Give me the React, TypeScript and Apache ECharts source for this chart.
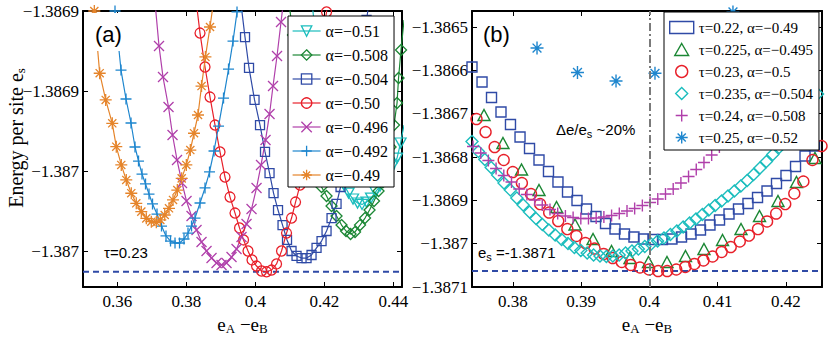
import React, { useEffect, useRef } from "react";
import * as echarts from "echarts";

// ---------------- Panel (a): tau = 0.23, several alpha ----------------
const xA051 = [0.41641, 0.41728, 0.41844, 0.4196, 0.42076, 0.42192, 0.42308, 0.42439, 0.42569, 0.427, 0.4283, 0.42961, 0.43091, 0.43222, 0.43352, 0.43483, 0.43613, 0.43744, 0.43874, 0.4399, 0.44106, 0.44208, 0.44309];
const eA051 = [-1.386895, -1.3869119, -1.3869306, -1.3869494, -1.3869663, -1.3869806, -1.3869925, -1.3870019, -1.3870088, -1.3870138, -1.3870175, -1.38702, -1.3870209, -1.3870194, -1.3870169, -1.3870131, -1.3870094, -1.3870056, -1.3870013, -1.3869963, -1.3869919, -1.3869825, -1.3869713];

const xA0508 = [0.40974, 0.4109, 0.41206, 0.41322, 0.41438, 0.41554, 0.4167, 0.41786, 0.41917, 0.42062, 0.42207, 0.42352, 0.42497, 0.42627, 0.42758, 0.42888, 0.43033, 0.43178, 0.43309, 0.43439, 0.4357, 0.437, 0.43816, 0.43918, 0.44019, 0.44106, 0.4415, 0.44222, 0.44309];
const eA0508 = [-1.386895, -1.386915, -1.3869338, -1.3869525, -1.3869694, -1.386985, -1.3869969, -1.3870044, -1.38701, -1.3870156, -1.3870219, -1.3870281, -1.3870338, -1.3870375, -1.3870394, -1.3870381, -1.3870338, -1.3870294, -1.3870244, -1.3870188, -1.3870125, -1.3870069, -1.3869963, -1.386985, -1.3869713, -1.3869575, -1.3869419, -1.3869244, -1.3869056];

const xA0504 = [0.39568, 0.39698, 0.39814, 0.39974, 0.40133, 0.40278, 0.40409, 0.40525, 0.40655, 0.40786, 0.40916, 0.41047, 0.41192, 0.41337, 0.41482, 0.41627, 0.41772, 0.41917, 0.42062, 0.42207, 0.42352, 0.42468, 0.42584, 0.42714, 0.4283, 0.4296, 0.43091, 0.43222, 0.43323];
const eA0504 = [-1.3868931, -1.3869163, -1.3869356, -1.3869556, -1.3869713, -1.3869881, -1.3870013, -1.3870138, -1.3870244, -1.3870338, -1.3870431, -1.38705, -1.3870531, -1.3870544, -1.3870544, -1.3870525, -1.3870481, -1.3870438, -1.3870375, -1.3870294, -1.3870206, -1.38701, -1.3869956, -1.3869788, -1.3869619, -1.3869431, -1.3869244, -1.3869056, -1.38689];

const xA050 = [0.38277, 0.38393, 0.38538, 0.38683, 0.38828, 0.38973, 0.39118, 0.39263, 0.39408, 0.39539, 0.39655, 0.39785, 0.39901, 0.40032, 0.40177, 0.40322, 0.40467, 0.40612, 0.40757, 0.40902, 0.41047, 0.41163, 0.41293, 0.41424, 0.41554, 0.41685, 0.41815, 0.41931, 0.42062, 0.42163];
const eA050 = [-1.3868931, -1.3869138, -1.386935, -1.3869538, -1.3869713, -1.3869881, -1.3870038, -1.3870163, -1.3870263, -1.3870356, -1.3870431, -1.38705, -1.3870556, -1.3870594, -1.3870625, -1.387063, -1.3870619, -1.3870581, -1.38705, -1.3870388, -1.3870294, -1.3870194, -1.3870088, -1.3869944, -1.3869775, -1.3869588, -1.3869381, -1.3869194, -1.3869006, -1.386884];

const xA0496 = [0.37103, 0.37204, 0.3732, 0.3748, 0.37596, 0.37726, 0.37871, 0.38002, 0.38147, 0.38292, 0.38437, 0.38582, 0.38727, 0.38872, 0.39017, 0.39162, 0.39307, 0.39452, 0.39597, 0.39742, 0.39887, 0.40032, 0.40162, 0.40293, 0.40409, 0.4051, 0.40626, 0.40742, 0.40829];
const eA0496 = [-1.3868981, -1.3869219, -1.3869413, -1.38696, -1.3869775, -1.3869931, -1.3870075, -1.3870188, -1.3870281, -1.3870369, -1.3870444, -1.38705, -1.3870544, -1.3870575, -1.3870588, -1.3870575, -1.3870538, -1.3870488, -1.3870413, -1.3870331, -1.3870238, -1.3870106, -1.3869963, -1.3869806, -1.3869644, -1.3869469, -1.3869281, -1.3869069, -1.3868913];

const xA0492 = [0.35928, 0.36102, 0.36247, 0.36392, 0.36508, 0.3661, 0.36711, 0.36813, 0.36914, 0.37016, 0.37146, 0.37277, 0.37407, 0.37538, 0.37668, 0.37799, 0.37929, 0.38045, 0.38147, 0.38248, 0.38393, 0.38538, 0.38669, 0.38799, 0.3893, 0.39075, 0.3922, 0.3935, 0.39466, 0.39553];
const eA0492 = [-1.3869, -1.3869369, -1.386955, -1.38697, -1.386985, -1.3869938, -1.3870019, -1.3870081, -1.3870144, -1.3870206, -1.3870269, -1.3870344, -1.3870406, -1.3870438, -1.387045, -1.387045, -1.3870425, -1.3870388, -1.3870344, -1.3870294, -1.38702, -1.3870106, -1.3870006, -1.3869875, -1.3869719, -1.3869544, -1.3869363, -1.3869188, -1.3869006, -1.386887];

const xA049 = [0.35328, 0.35484, 0.35658, 0.35849, 0.35965, 0.3611, 0.36255, 0.364, 0.36545, 0.36691, 0.36836, 0.36981, 0.37126, 0.37242, 0.3737, 0.37494, 0.3761, 0.37735, 0.37862, 0.37996, 0.38112, 0.38219, 0.38335, 0.38437, 0.3855, 0.38683, 0.38799];
const eA049 = [-1.3869, -1.3869389, -1.3869556, -1.3869702, -1.3869848, -1.3869962, -1.3870056, -1.3870139, -1.3870202, -1.3870254, -1.3870296, -1.3870317, -1.3870321, -1.3870306, -1.3870275, -1.3870233, -1.3870181, -1.3870119, -1.3870046, -1.3869962, -1.3869869, -1.3869764, -1.386965, -1.3869469, -1.3869287, -1.38691, -1.3868919];

// ---------------- Panel (b): different (tau, alpha) ----------------
const xB022 = [0.374, 0.37547, 0.37686, 0.37825, 0.37964, 0.38104, 0.38243, 0.38382, 0.38521, 0.3866, 0.388, 0.38939, 0.39078, 0.39217, 0.39357, 0.39496, 0.39635, 0.39774, 0.39914, 0.40053, 0.40192, 0.40331, 0.40471, 0.4061, 0.40749, 0.40888, 0.41028, 0.41167, 0.41306, 0.41445, 0.41585, 0.41724, 0.41863, 0.42002, 0.42142, 0.42281, 0.4242];
const eB022 = [-1.3865923, -1.3866269, -1.3866627, -1.3866962, -1.386725, -1.3867538, -1.3867804, -1.3868069, -1.3868335, -1.3868577, -1.3868808, -1.3869004, -1.38692, -1.3869373, -1.3869535, -1.3869662, -1.3869777, -1.3869846, -1.3869892, -1.3869904, -1.3869904, -1.3869892, -1.3869846, -1.3869777, -1.3869685, -1.3869569, -1.3869454, -1.3869315, -1.38692, -1.3869073, -1.3868935, -1.3868785, -1.3868612, -1.3868427, -1.3868219, -1.3867977, -1.3867746];

const xB0225 = [0.37576, 0.37854, 0.38126, 0.38382, 0.38639, 0.3891, 0.39174, 0.39445, 0.39716, 0.39987, 0.40258, 0.40529, 0.408, 0.41072, 0.41343, 0.41614, 0.41885, 0.42156, 0.42427];
const eB0225 = [-1.3867031, -1.3867677, -1.3868288, -1.3868762, -1.3869154, -1.3869558, -1.3869892, -1.3870169, -1.3870331, -1.3870423, -1.3870423, -1.3870285, -1.3870123, -1.3869915, -1.3869662, -1.3869362, -1.3869015, -1.3868577, -1.3868023];

const xB023 = [0.37466, 0.37599, 0.37732, 0.37865, 0.37998, 0.38131, 0.38265, 0.38398, 0.38531, 0.38664, 0.38797, 0.3893, 0.39063, 0.39196, 0.39329, 0.39462, 0.39595, 0.39728, 0.39862, 0.39995, 0.40128, 0.40261, 0.40394, 0.40527, 0.4066, 0.40793, 0.40926, 0.41059, 0.41192, 0.41325, 0.41459, 0.41592, 0.41725, 0.41858, 0.41991, 0.42124, 0.42257, 0.4239, 0.42523];
const eB023 = [-1.3867123, -1.3867423, -1.3867769, -1.3868069, -1.3868346, -1.38686, -1.3868854, -1.3869085, -1.3869281, -1.3869477, -1.3869662, -1.3869823, -1.3869985, -1.3870112, -1.3870238, -1.3870331, -1.3870423, -1.3870492, -1.387055, -1.3870596, -1.3870631, -1.3870631, -1.3870596, -1.3870538, -1.3870469, -1.3870388, -1.3870296, -1.3870192, -1.3870077, -1.386995, -1.3869812, -1.3869662, -1.3869488, -1.3869304, -1.3869085, -1.3868842, -1.3868565, -1.3868069, -1.3867746];

const xB0235 = [0.374, 0.37494, 0.37588, 0.37681, 0.37775, 0.37869, 0.37963, 0.38057, 0.3815, 0.38244, 0.38338, 0.38432, 0.38526, 0.38619, 0.38713, 0.38807, 0.38901, 0.38995, 0.39088, 0.39182, 0.39276, 0.3937, 0.39464, 0.39557, 0.39651, 0.39745, 0.39839, 0.39933, 0.40026, 0.4012, 0.40214, 0.40308, 0.40402, 0.40495, 0.40589, 0.40683, 0.40777, 0.40871, 0.40964, 0.41058, 0.41152, 0.41246, 0.4134, 0.41433, 0.41527, 0.41621, 0.41715, 0.41809, 0.41902, 0.41996, 0.4209, 0.42184, 0.42278, 0.42371, 0.42465, 0.42559];
const eB0235 = [-1.3867642, -1.3867873, -1.3868058, -1.3868242, -1.3868415, -1.38686, -1.3868762, -1.3868946, -1.3869108, -1.3869269, -1.3869419, -1.3869558, -1.3869685, -1.38698, -1.3869904, -1.3869996, -1.3870088, -1.3870158, -1.3870215, -1.3870262, -1.3870285, -1.3870296, -1.3870285, -1.3870262, -1.3870215, -1.3870169, -1.3870123, -1.3870065, -1.3870008, -1.3869938, -1.3869869, -1.3869788, -1.3869708, -1.3869615, -1.3869523, -1.3869431, -1.3869327, -1.3869223, -1.3869119, -1.3869015, -1.38689, -1.3868785, -1.3868669, -1.3868542, -1.3868404, -1.3868254, -1.3868104, -1.3867942, -1.3867781, -1.3867608, -1.3867435, -1.386725, -1.3867054, -1.38668, -1.3866546, -1.3866269];

const xB024 = [0.37415, 0.37528, 0.3764, 0.37753, 0.37866, 0.37979, 0.38092, 0.38205, 0.38318, 0.3843, 0.38543, 0.38656, 0.38769, 0.38882, 0.38995, 0.39107, 0.3922, 0.39333, 0.39446, 0.39559, 0.39672, 0.39784, 0.39897, 0.4001, 0.40123, 0.40236, 0.40349, 0.40462, 0.40574, 0.40687, 0.408, 0.40913, 0.41026, 0.41139, 0.41251, 0.41364];
const eB024 = [-1.3867758, -1.3867908, -1.3868081, -1.3868265, -1.3868427, -1.3868577, -1.3868738, -1.3868865, -1.3868992, -1.3869108, -1.3869212, -1.3869304, -1.3869362, -1.3869396, -1.3869419, -1.3869419, -1.3869408, -1.3869385, -1.386935, -1.3869304, -1.3869246, -1.3869188, -1.3869119, -1.386905, -1.3868969, -1.3868854, -1.3868738, -1.38686, -1.386845, -1.3868288, -1.3868127, -1.3867954, -1.3867769, -1.3867585, -1.3867377, -1.3867169];

const xB025 = [0.38353, 0.38946, 0.39511, 0.40082, 0.40654, 0.41225];
const eB025 = [-1.3865485, -1.386605, -1.3866246, -1.3866068, -1.3865508, -1.3864654];

// ---------------- ticks / levels ----------------
const xRangeA = [0.35, 0.4425];
const yRangeA = [-1.3870725, -1.3869];
const xRangeB = [0.374, 0.4253];
const yRangeB = [-1.3871, -1.386463];

const xTicksA = [0.36, 0.38, 0.4, 0.42, 0.44];
const xTickLabelsA = ["0.36", "0.38", "0.4", "0.42", "0.44"];
const yTicksA = [-1.3869, -1.38695, -1.387, -1.38705];
const yTickLabelsA = ["\u22121.3869", "\u22121.3869", "\u22121.387", "\u22121.387"];
const xTicksB = [0.38, 0.39, 0.4, 0.41, 0.42];
const xTickLabelsB = ["0.38", "0.39", "0.4", "0.41", "0.42"];
const yTicksB = [-1.3865, -1.3866, -1.3867, -1.3868, -1.3869, -1.387, -1.3871];
const yTickLabelsB = ["\u22121.3865", "\u22121.3866", "\u22121.3867", "\u22121.3868", "\u22121.3869", "\u22121.387", "\u22121.3871"];

const esLevel = -1.387063;
const dividerX = 0.4018;

const SERIF = "Liberation Serif, Times New Roman, serif";
const SANS = "Liberation Sans, Arial, sans-serif";

const SYM = {
  triDown: "path://M0,0L10,0L5,8.66Z",
  triUp: "path://M5,0L10,8.66L0,8.66Z",
  diamond: "path://M5,0L10,5L5,10L0,5Z",
  cross: "path://M0,0L10,10M10,0L0,10",
  plus: "path://M5,0L5,10M0,5L10,5",
  star: "path://M5,0L5,10M0,5L10,5M1.6,1.6L8.4,8.4M8.4,1.6L1.6,8.4",
};

const C = {
  cyan: "#1BBDBD",
  green: "#1B8734",
  navy: "#2F4AA6",
  red: "#E8202A",
  magenta: "#B03FAA",
  blue: "#1E86CE",
  orange: "#E5842A",
};

function fmt(ticks: number[], labels: string[]) {
  return (v: number) => {
    const i = ticks.findIndex((t) => Math.abs(t - v) < 1e-9);
    return i >= 0 ? labels[i] : "";
  };
}

function axis(gridIndex: number, position: string, range: number[], ticks: number[], labels: string[], showLabels: boolean, extra: any = {}) {
  return {
    type: "value",
    gridIndex,
    position,
    min: range[0],
    max: range[1],
    axisLine: { show: true, onZero: false, lineStyle: { color: "#000", width: 2 } },
    axisTick: { show: true, inside: true, length: 5, customValues: ticks, lineStyle: { color: "#000", width: 1 } },
    axisLabel: {
      show: showLabels,
      customValues: ticks,
      formatter: fmt(ticks, labels),
      fontFamily: SERIF,
      fontSize: 17,
      color: "#000",
      margin: position === "bottom" ? 6 : 4,
    },
    splitLine: { show: false },
    ...extra,
  };
}

const subRich = {
  m: { fontFamily: SERIF, fontSize: 19, color: "#000", lineHeight: 22 },
  s: { fontFamily: SERIF, fontSize: 13, color: "#000", lineHeight: 11, verticalAlign: "bottom" },
};

function lineSeries(name: string, xs: number[], ys: number[], color: string, symbol: string, size: any) {
  return {
    type: "line",
    name,
    xAxisIndex: 0,
    yAxisIndex: 0,
    data: xs.map((x, i) => [x, ys[i]]),
    symbol,
    symbolSize: size,
    showAllSymbol: true,
    clip: true,
    silent: true,
    lineStyle: { color, width: 1.2 },
    itemStyle: { color: "rgba(255,255,255,0)", borderColor: color, borderWidth: 1.3 },
    emphasis: { disabled: true },
  };
}

function scatterSeries(name: string, xs: number[], ys: number[], color: string, symbol: string, size: any) {
  return {
    type: "scatter",
    name,
    xAxisIndex: 2,
    yAxisIndex: 2,
    data: xs.map((x, i) => [x, ys[i]]),
    symbol,
    symbolSize: size,
    clip: true,
    silent: true,
    itemStyle: { color: "rgba(255,255,255,0)", borderColor: color, borderWidth: 1.4, opacity: 1 },
    emphasis: { disabled: true },
  };
}

function levelSeries(xAxisIndex: number, yAxisIndex: number, xr: number[]) {
  return {
    type: "line",
    name: "es-level-" + xAxisIndex,
    xAxisIndex,
    yAxisIndex,
    data: [
      [xr[0], esLevel],
      [xr[1], esLevel],
    ],
    symbol: "none",
    silent: true,
    z: 1,
    lineStyle: { color: "#2F4AA6", width: 2, type: [6, 4] },
    emphasis: { disabled: true },
  };
}

export default function App() {
  const ref = useRef<HTMLDivElement>(null);

  useEffect(() => {
    if (!ref.current) return;
    const chart = echarts.init(ref.current, undefined, { renderer: "svg" });

    const namesA = ["\u03b1=\u22120.51", "\u03b1=\u22120.508", "\u03b1=\u22120.504", "\u03b1=\u22120.50", "\u03b1=\u22120.496", "\u03b1=\u22120.492", "\u03b1=\u22120.49"];
    const namesB = [
      "\u03c4=0.22, \u03b1=\u22120.49",
      "\u03c4=0.225, \u03b1=\u22120.495",
      "\u03c4=0.23, \u03b1=\u22120.5",
      "\u03c4=0.235, \u03b1=\u22120.504",
      "\u03c4=0.24, \u03b1=\u22120.508",
      "\u03c4=0.25, \u03b1=\u22120.52",
    ];

    const redB: any = scatterSeries(namesB[2], xB023, eB023, C.red, "circle", 11);
    redB.markLine = {
      silent: true,
      symbol: ["none", "none"],
      label: { show: false },
      data: [{ xAxis: dividerX, lineStyle: { color: "#7a7a7a", width: 2, type: [8, 3, 2, 3] } }],
    };

    const option: any = {
      animation: false,
      backgroundColor: "#fff",
      grid: [
        { left: 83, top: 11, width: 319, height: 276, containLabel: false, outerBoundsMode: "none" },
        { left: 472, top: 11, width: 350, height: 276, containLabel: false, outerBoundsMode: "none" },
      ],
      xAxis: [
        axis(0, "bottom", xRangeA, xTicksA, xTickLabelsA, true, {
          name: "{m|e}{s|A}{m| \u2212e}{s|B}",
          nameLocation: "middle",
          nameGap: 16,
          nameTextStyle: { rich: subRich },
        }),
        axis(0, "top", xRangeA, xTicksA, xTickLabelsA, false),
        axis(1, "bottom", xRangeB, xTicksB, xTickLabelsB, true, {
          name: "{m|e}{s|A}{m| \u2212e}{s|B}",
          nameLocation: "middle",
          nameGap: 16,
          nameTextStyle: { rich: subRich },
        }),
        axis(1, "top", xRangeB, xTicksB, xTickLabelsB, false),
      ],
      yAxis: [
        axis(0, "left", yRangeA, yTicksA, yTickLabelsA, true),
        axis(0, "right", yRangeA, yTicksA, yTickLabelsA, false),
        axis(1, "left", yRangeB, yTicksB, yTickLabelsB, true),
        axis(1, "right", yRangeB, yTicksB, yTickLabelsB, false),
      ],
      legend: [
        {
          orient: "vertical",
          left: 288,
          top: 16,
          data: namesA,
          backgroundColor: "#fff",
          borderColor: "#000",
          borderWidth: 1,
          borderRadius: 0,
          padding: [7, 6, 4, 4],
          itemGap: 8,
          itemWidth: 28,
          itemHeight: 13,
          selectedMode: false,
          textStyle: { fontFamily: SERIF, fontSize: 16, color: "#000" },
          itemStyle: { borderWidth: 1.3 },
          lineStyle: { width: 1.2 },
        },
        {
          orient: "vertical",
          left: 664,
          top: 12,
          data: namesB,
          backgroundColor: "#fff",
          borderColor: "#000",
          borderWidth: 1,
          borderRadius: 0,
          padding: [8, 6, 5, 5],
          itemGap: 7,
          itemWidth: 24,
          itemHeight: 12,
          selectedMode: false,
          textStyle: { fontFamily: SERIF, fontSize: 15, color: "#000" },
          itemStyle: { borderWidth: 1.4 },
        },
      ],
      graphic: [
        {
          type: "text",
          z: 101,
          x: 16,
          y: 138,
          rotation: Math.PI / 2,
          style: {
            text: "{m|Energy per site e}{s|s}",
            align: "center",
            verticalAlign: "middle",
            rich: {
              m: { fontFamily: SERIF, fontSize: 20, fill: "#000", lineHeight: 22 },
              s: { fontFamily: SERIF, fontSize: 13, fill: "#000", lineHeight: 11, verticalAlign: "bottom" },
            },
          },
        },
        { type: "rect", z: 100, shape: { x: 85, y: 13, width: 44, height: 38 }, style: { fill: "#fff" } },
        { type: "text", z: 101, x: 95, y: 23, style: { text: "(a)", font: `22px ${SANS}`, fill: "#000", align: "left", verticalAlign: "top" } },
        { type: "text", z: 101, x: 483, y: 23, style: { text: "(b)", font: `22px ${SANS}`, fill: "#000", align: "left", verticalAlign: "top" } },
        { type: "text", z: 101, x: 104, y: 245, style: { text: "\u03c4=0.23", font: `15px ${SANS}`, fill: "#000", align: "left", verticalAlign: "top" } },
        {
          type: "text",
          z: 101,
          x: 478,
          y: 242,
          style: {
            text: "{m|e}{s|s}{m| =-1.3871}",
            align: "left",
            verticalAlign: "top",
            rich: {
              m: { fontFamily: SANS, fontSize: 15, fill: "#000", lineHeight: 20 },
              s: { fontFamily: SANS, fontSize: 11, fill: "#000", lineHeight: 10, verticalAlign: "bottom" },
            },
          },
        },
        {
          type: "text",
          z: 101,
          x: 556,
          y: 119,
          style: {
            text: "{m|\u0394e/e}{s|s}{m| ~20%}",
            align: "left",
            verticalAlign: "top",
            rich: {
              m: { fontFamily: SANS, fontSize: 15, fill: "#000", lineHeight: 20 },
              s: { fontFamily: SANS, fontSize: 11, fill: "#000", lineHeight: 10, verticalAlign: "bottom" },
            },
          },
        },
      ],
      series: [
        levelSeries(0, 0, xRangeA),
        levelSeries(2, 2, xRangeB),
        lineSeries(namesA[0], xA051, eA051, C.cyan, SYM.triDown, [11, 10]),
        lineSeries(namesA[1], xA0508, eA0508, C.green, SYM.diamond, 11),
        lineSeries(namesA[2], xA0504, eA0504, C.navy, "rect", 9),
        lineSeries(namesA[3], xA050, eA050, C.red, "circle", 10),
        lineSeries(namesA[4], xA0496, eA0496, C.magenta, SYM.cross, 10),
        lineSeries(namesA[5], xA0492, eA0492, C.blue, SYM.plus, 11),
        lineSeries(namesA[6], xA049, eA049, C.orange, SYM.star, 12),
        scatterSeries(namesB[0], xB022, eB022, C.navy, "rect", 10),
        scatterSeries(namesB[1], xB0225, eB0225, C.green, SYM.triUp, [12, 11]),
        redB,
        scatterSeries(namesB[3], xB0235, eB0235, C.cyan, SYM.diamond, 12),
        scatterSeries(namesB[4], xB024, eB024, C.magenta, SYM.plus, 12),
        scatterSeries(namesB[5], xB025, eB025, C.blue, SYM.star, 13),
      ],
    };

    chart.setOption(option);
    return () => chart.dispose();
  }, []);

  return (
    <div
      ref={ref}
      style={{ position: "absolute", left: 0, top: 0, width: 830, height: 343, background: "#fff" }}
    />
  );
}
